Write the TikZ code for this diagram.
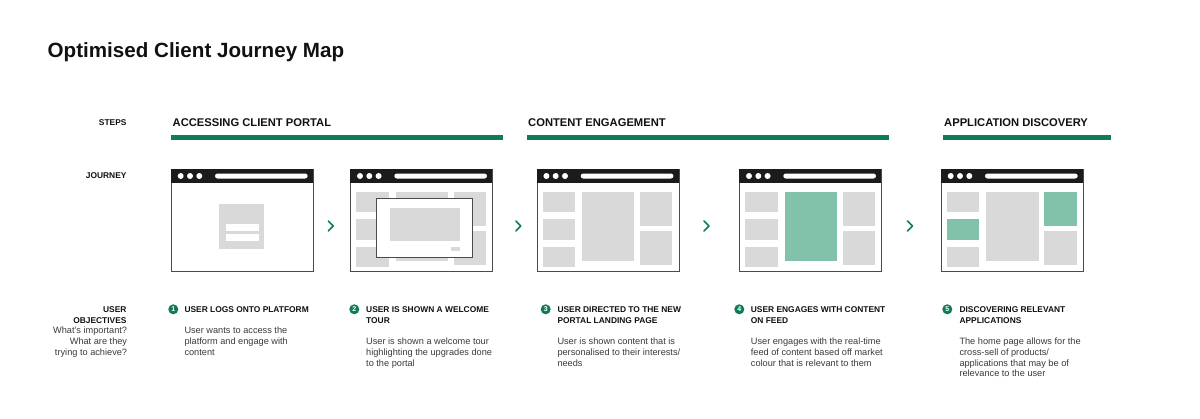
\documentclass[tikz,border=0pt]{standalone}
\usepackage{fontspec}
\setmainfont{Liberation Sans}
\usetikzlibrary{calc}
\definecolor{brand}{HTML}{0E7D55}
\definecolor{mint}{HTML}{82C2AA}
\definecolor{block}{HTML}{D9D9D9}
\definecolor{ink}{HTML}{111111}
\definecolor{bodytext}{HTML}{3A3A3A}
\definecolor{framecol}{HTML}{4A4A4A}
\definecolor{headbar}{HTML}{1B1B1B}
\newcommand\llines[1]{\begin{tabular}[t]{@{}l@{}}#1\end{tabular}}
\newcommand\rlines[1]{\begin{tabular}[t]{@{}r@{}}#1\end{tabular}}
\tikzset{
  pagetitle/.style={anchor=base west, inner sep=0, font=\fontsize{20.6}{24}\selectfont\bfseries, text=ink},
  heading/.style={anchor=base west, inner sep=0, font=\fontsize{11.2}{13}\selectfont\bfseries, text=ink},
  rowlabel/.style={anchor=base east, inner sep=0, font=\fontsize{8.4}{10.5}\selectfont\bfseries, text=ink},
  rowsub/.style={anchor=base east, inner sep=0, font=\fontsize{9.2}{10.9}\selectfont, text=bodytext},
  itemtitle/.style={anchor=base west, inner sep=0, font=\fontsize{8.4}{10.5}\selectfont\bfseries, text=ink},
  itembody/.style={anchor=base west, inner sep=0, font=\fontsize{9.2}{10.9}\selectfont, text=bodytext},
  numdot/.style={circle, fill=brand, text=white, minimum size=10pt, inner sep=0, font=\fontsize{7}{7}\selectfont\bfseries},
  phasebar/.style={fill=brand, draw=none},
  winframe/.style={draw=framecol, line width=0.9pt, fill=white, minimum width=142pt, minimum height=101.5pt, inner sep=0, anchor=north west},
  chev/.style={draw=brand, line width=1.5pt, line cap=round, line join=round},
  browser/.pic={
    \node[winframe] (-frame) at (0,0) {};
    \fill[headbar] (0,0) rectangle (142,13.5);
    \fill[white] (9.7,7) circle (3) (19,7) circle (3) (28.3,7) circle (3);
    \fill[white, rounded corners=2.5pt] (44,4.5) rectangle (136.7,9.5);
  }
}
\newcommand\feedlayout[3]{%
  \fill[block] (6,23) rectangle (38.3,43.3);
  \fill[#1] (6,50.3) rectangle (38.3,71);
  \fill[block] (6,77.7) rectangle (38.3,97.7);
  \fill[#2] (45.3,23) rectangle (97.6,92.3);
  \fill[#3] (103.3,23) rectangle (135.6,57);
  \fill[block] (103.3,62) rectangle (135.6,96);
}
\newcommand\chevat[2]{\draw[chev] (#1-2.5,#2-5) -- (#1+2.5,#2) -- (#1-2.5,#2+5);}
\begin{document}
\begin{tikzpicture}[x=1pt,y=-1pt]
\fill[white] (0,0) rectangle (1200,418);
\useasboundingbox (0,0) rectangle (1200,418);

\node[pagetitle] (title) at (47.5,57.3) {Optimised Client Journey Map};

% row labels
\node[rowlabel] (steps) at (126.7,125.3) {STEPS};
\node[rowlabel] (journey) at (126.7,178.3) {JOURNEY};
\node[rowlabel] (objectives) at (126.7,312.5) {\rlines{USER\\OBJECTIVES}};
\node[rowsub] (objsub) at (127.3,333.3) {\rlines{What’s important?\\What are they\\trying to achieve?}};

% phases
\node[heading] (ph1) at (172.5,126) {ACCESSING CLIENT PORTAL};
\node[heading] (ph2) at (528,126) {CONTENT ENGAGEMENT};
\node[heading] (ph3) at (944,126) {APPLICATION DISCOVERY};
\fill[phasebar] (171,135) rectangle (503,140);
\fill[phasebar] (527,135) rectangle (889,140);
\fill[phasebar] (943,135) rectangle (1111,140);

% window 1: login
\begin{scope}[shift={(171,169)}]
  \pic (w1) at (0,0) {browser};
  \fill[block] (48.3,35) rectangle (92.7,79.7);
  \fill[white] (54.7,55.3) rectangle (87.7,62.3);
  \fill[white] (54.7,65.3) rectangle (87.7,72.3);
\end{scope}

% window 2: welcome tour
\begin{scope}[shift={(350.3,169)}]
  \pic (w2) at (0,0) {browser};
  \feedlayout{block}{block}{block}
  \node[draw=framecol, line width=0.9pt, fill=white, inner sep=0, anchor=north west,
        minimum width=95.4pt, minimum height=58.7pt] (tour) at (26,29) {};
  \fill[block] (40,38.7) rectangle (109.7,72.3);
  \fill[block] (100.4,77.7) rectangle (109.7,82.3);
\end{scope}

% window 3: landing page
\begin{scope}[shift={(536.7,169)}]
  \pic (w3) at (0,0) {browser};
  \feedlayout{block}{block}{block}
\end{scope}

% window 4: feed
\begin{scope}[shift={(739.3,169)}]
  \pic (w4) at (0,0) {browser};
  \feedlayout{block}{mint}{block}
\end{scope}

% window 5: discovery
\begin{scope}[shift={(941,169)}]
  \pic (w5) at (0,0) {browser};
  \feedlayout{mint}{block}{mint}
\end{scope}

% chevrons
\chevat{330.8}{226}
\chevat{518.3}{226}
\chevat{706.5}{226}
\chevat{910}{226}

% objectives
\node[numdot] (n1) at (173.3,309.3) {1};
\node[numdot] (n2) at (354.3,309.3) {2};
\node[numdot] (n3) at (545.7,309.3) {3};
\node[numdot] (n4) at (739.3,309.3) {4};
\node[numdot] (n5) at (947.3,309.3) {5};

\node[itemtitle] (t1) at (184.3,312.5) {USER LOGS ONTO PLATFORM};
\node[itembody] (b1) at (184.3,333.3) {\llines{User wants to access the\\platform and engage with\\content}};

\node[itemtitle] (t2) at (366,312.5) {\llines{USER IS SHOWN A WELCOME\\TOUR}};
\node[itembody] (b2) at (366,344.2) {\llines{User is shown a welcome tour\\highlighting the upgrades done\\to the portal}};

\node[itemtitle] (t3) at (557.3,312.5) {\llines{USER DIRECTED TO THE NEW\\PORTAL LANDING PAGE}};
\node[itembody] (b3) at (557.3,344.2) {\llines{User is shown content that is\\personalised to their interests/\\needs}};

\node[itemtitle] (t4) at (750.7,312.5) {\llines{USER ENGAGES WITH CONTENT\\ON FEED}};
\node[itembody] (b4) at (750.7,344.2) {\llines{User engages with the real-time\\feed of content based off market\\colour that is relevant to them}};

\node[itemtitle] (t5) at (959.3,312.5) {\llines{DISCOVERING RELEVANT\\APPLICATIONS}};
\node[itembody] (b5) at (959.3,344.2) {\llines{The home page allows for the\\cross-sell of products/\\applications that may be of\\relevance to the user}};
\end{tikzpicture}
\end{document}
